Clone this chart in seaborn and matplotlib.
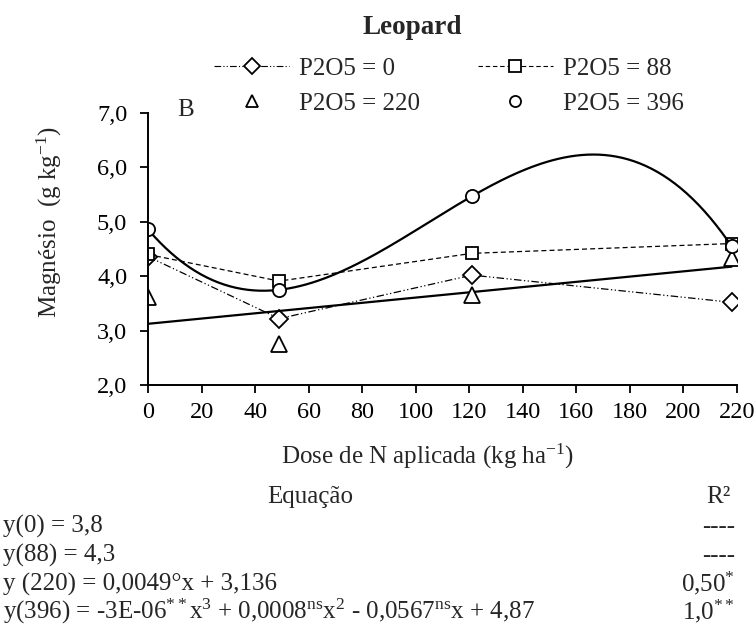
import numpy as np
import pandas as pd
import matplotlib
matplotlib.use("Agg")
import matplotlib.pyplot as plt
from matplotlib.lines import Line2D
import seaborn as sns

# ---- data ----
dose = [0, 49, 121, 218]
p0 = [4.36, 3.22, 4.02, 3.52]
p88 = [4.40, 3.91, 4.42, 4.60]
p220 = [3.62, 2.75, 3.66, 4.34]
p396 = [4.86, 3.75, 5.47, 4.55]
labels = ["P2O5 = 0", "P2O5 = 88", "P2O5 = 220", "P2O5 = 396"]
yticks = [2.0, 3.0, 4.0, 5.0, 6.0, 7.0]
ytick_labels = ["2,0", "3,0", "4,0", "5,0", "6,0", "7,0"]
xticks = list(range(0, 221, 20))
eq_rows = [
    r"y(0) = 3,8",
    r"y(88) = 4,3",
    r"y (220) = 0,0049°x + 3,136",
    r"y(396) = -3E-06$^{**}$x$^{3}$ + 0,0008$^{\mathrm{ns}}$x$^{2}$ - 0,0567$^{\mathrm{ns}}$x + 4,87",
]
r2_rows = ["----", "----", r"0,50$^{*}$", r"1,0$^{**}$"]

sns.set_style("ticks")
plt.rcParams["font.family"] = ["Liberation Serif", "DejaVu Serif"]
plt.rcParams["mathtext.fontset"] = "custom"
plt.rcParams["mathtext.rm"] = "Liberation Serif"
plt.rcParams["mathtext.it"] = "Liberation Serif:italic"
plt.rcParams["mathtext.bf"] = "Liberation Serif:bold"

FS = 18
TFS = 17.5
W, H = 754, 627
fig = plt.figure(figsize=(W / 100, H / 100), dpi=100)
ax = fig.add_axes([148 / W, 1 - 385 / H, (737 - 148) / W, (385 - 113) / H])

df = pd.DataFrame({"dose": dose, "p0": p0, "p88": p88, "p220": p220, "p396": p396})

ls0 = (0, (6, 2, 1, 2, 1, 2))
ls88 = (0, (4, 2.5))
mk = dict(markerfacecolor="white", markeredgecolor="black", markeredgewidth=1.3)

sns.lineplot(data=df, x="dose", y="p0", ax=ax, color="black", lw=0.9,
             linestyle=ls0, marker="D", markersize=9, **mk)
sns.lineplot(data=df, x="dose", y="p88", ax=ax, color="black", lw=0.9,
             linestyle=ls88, marker="s", markersize=9, **mk)

# fitted curves
xs = np.linspace(0, dose[-1], 300)
c220 = np.polyfit(dose, p220, 1)
c396 = np.polyfit(dose, p396, 3)
fit = pd.DataFrame({"x": xs, "l220": np.polyval(c220, xs), "l396": np.polyval(c396, xs)})
sns.lineplot(data=fit, x="x", y="l220", ax=ax, color="black", lw=1.6)
sns.lineplot(data=fit, x="x", y="l396", ax=ax, color="black", lw=1.6)

sns.lineplot(data=df, x="dose", y="p220", ax=ax, lw=0, marker="^", markersize=11, **mk)
sns.lineplot(data=df, x="dose", y="p396", ax=ax, lw=0, marker="o", markersize=9.5, **mk)

ax.set_xlim(0, 220)
ax.set_ylim(2, 7)
ax.set_xticks(xticks)
ax.set_xticklabels([str(t) for t in xticks], fontsize=TFS)
ax.set_yticks(yticks)
ax.set_yticklabels(ytick_labels, fontsize=TFS)
ax.tick_params(axis="both", direction="out", length=6, width=1.3, colors="black")
ax.tick_params(axis="y", pad=9)
ax.tick_params(axis="x", pad=6)
for s in ["top", "right"]:
    ax.spines[s].set_visible(False)
for s in ["left", "bottom"]:
    ax.spines[s].set_linewidth(1.4)
    ax.spines[s].set_color("black")
ax.set_xlabel("Dose de N aplicada (kg ha$^{-1}$)", fontsize=FS)
ax.xaxis.set_label_coords((428 - 148) / (737 - 148), -(442 - 385) / (385 - 113))
ax.set_ylabel("Magnésio  (g kg$^{-1}$)", fontsize=FS)
ax.yaxis.set_label_coords(-(148 - 64) / (737 - 148), (385 - 222) / (385 - 113))
ax.text(11, 7.05, "B", fontsize=FS, ha="left", va="center")

fig.text(412 / W, 1 - 28 / H, "Leopard", fontsize=19.5,
         fontweight="bold", ha="center", va="center")

h0 = Line2D([], [], color="black", lw=0.8, linestyle=ls0, marker="D", markersize=8, **mk)
h88 = Line2D([], [], color="black", lw=0.8, linestyle=ls88, marker="s", markersize=8, **mk)
h220 = Line2D([], [], lw=0, marker="^", markersize=9, **mk)
h396 = Line2D([], [], lw=0, marker="o", markersize=8, **mk)
# column-major filling: first column (0, 220), second column (88, 396)
fig.legend([h0, h220, h88, h396], [labels[0], labels[2], labels[1], labels[3]],
           ncol=2, frameon=False, fontsize=FS,
           loc="center", bbox_to_anchor=(449 / W, 1 - 86 / H),
           handlelength=3.0, columnspacing=2.3, handletextpad=0.4, labelspacing=0.5)

fig.text(310 / W, 1 - 503 / H, "Equação", fontsize=FS, ha="center", va="baseline")
fig.text(718 / W, 1 - 503 / H, "R²", fontsize=FS, ha="center", va="baseline")
ys = [533, 562, 591, 619]
for y, e, r in zip(ys, eq_rows, r2_rows):
    fig.text(3 / W, 1 - y / H, e, fontsize=FS, ha="left", va="baseline")
    fig.text(735 / W, 1 - y / H, r, fontsize=FS, ha="right", va="baseline")

fig.savefig("out.png", dpi=100)
